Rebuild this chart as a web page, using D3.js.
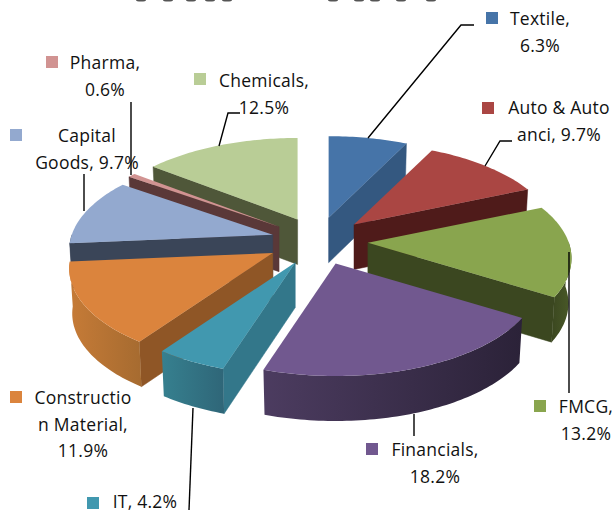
<!DOCTYPE html>
<html>
<head>
<meta charset="utf-8">
<script src="https://cdn.jsdelivr.net/npm/d3@7/dist/d3.min.js"></script>
<style>
html,body{margin:0;padding:0;background:#fff;overflow:hidden}
svg{display:block}
text{font-family:"Open Sans",Lato,sans-serif;font-size:17.5px;letter-spacing:.25px;fill:#111;text-anchor:middle}
</style>
</head>
<body>
<svg id="chart" width="616" height="512"></svg>
<script>
const categories = ["Textile","Auto & Auto anci","FMCG","Financials","IT","Construction Material","Capital Goods","Pharma","Chemicals"];
const shares = [6.3,9.7,13.2,18.2,4.2,11.9,9.7,0.6,12.5];

const topColors  = ["#4674A8","#AA4643","#89A54E","#71588F","#4198AF","#DB843D","#93A9CF","#D19392","#B9CD96"];
const wallColors = ["#345880","#4F1B1A","#3B4720","#2E243B","#33778A","#8F5626","#3A4558","#5A3838","#4F5739"];
const outerLeft  = ["#345880","#4F1B1A","#3B4720","#4C3C60","#36808F","#C67B37","#3A4558","#5A3838","#4F5739"];
const outerRight = ["#345880","#4F1B1A","#4A5A28","#2B2238","#2F6678","#A66B30","#3A4558","#5A3838","#4F5739"];

// Label lines, swatch and leader geometry are layout, kept apart from the data.
const labelLines = [["Textile,","6.3%"],["Auto & Auto","anci, 9.7%"],["FMCG,","13.2%"],["Financials,","18.2%"],["IT, 4.2%"],["Constructio","n Material,","11.9%"],["Capital","Goods, 9.7%"],["Pharma,","0.6%"],["Chemicals,","12.5%"]];
const labelCenterX = [540,559,586,435,145,83,87,105,264];
const labelBaseY   = [25,114,413,456,508,404,142,69,87];
const swatchX = [486,482,534,366,87,10,10,46,194];
const swatchY = [12,102,400,443,497,391,129,56,73];
const nudgeX = [0,0,0,1,1,0,5,3,3];
const leaders = [
  [[474,25],[461,25],[368,138]],
  [[512,141],[500,141],[485,166]],
  [[569,252],[569,393]],
  [[414,414],[414,436]],
  [[193,408],[189,510]],
  null,
  [[84,174],[84,211]],
  [[131,102],[131,175]],
  [[240,113],[228,113],[219,146]]
];
const titleRemnantX = [141,168,191,210,227,333,359,375,401,431];
const LINE_H = 26.5;

const cx = 317, cy = 241;      // pie centre
const RX = 201, RY = 94.5;     // plane radii
const PERSP = 0.16;            // perspective foreshortening
const EXPLODE_X = 51, EXPLODE_Y = 24;
const DEPTH = 45;
const BOTTOM_X = 0.985;

const svg = d3.select("#chart");
const line = d3.line();
const defs = svg.append("defs");

const arcs = d3.pie().sort(null).startAngle(0).endAngle(2*Math.PI)(shares);

const rim = (t) => {
  const k = 1/(1+PERSP*Math.cos(t));
  return [RX*Math.sin(t)*k, -RY*Math.cos(t)*k];
};

arcs.forEach(a => { a.mid = (a.startAngle+a.endAngle)/2; });
const order = arcs.slice().sort((a,b)=>d3.descending(Math.cos(a.mid),Math.cos(b.mid)));

order.forEach(a => {
  const i = a.index;
  const ax = cx + EXPLODE_X*Math.sin(a.mid) + nudgeX[i];
  const ay = cy - EXPLODE_Y*Math.cos(a.mid);
  const top = ([x,y]) => [ax+x, ay+y];
  const bot = ([x,y]) => [ax+x*BOTTOM_X, ay+y+DEPTH];
  const n = Math.max(2, Math.ceil((a.endAngle-a.startAngle)/0.02));
  const ts = d3.range(n+1).map(j => a.startAngle+(a.endAngle-a.startAngle)*j/n);
  const g = svg.append("g").attr("class","slice").attr("data-name",categories[i]);
  const apexT = [ax,ay], apexB = [ax,ay+DEPTH];
  const wall = (t) => line([apexT, top(rim(t)), bot(rim(t)), apexB])+"Z";

  if (Math.sin(a.startAngle) < -1e-6)
    g.append("path").attr("d",wall(a.startAngle)).attr("fill",wallColors[i]).attr("stroke",wallColors[i]).attr("stroke-width",.5);
  if (Math.sin(a.endAngle) > 1e-6)
    g.append("path").attr("d",wall(a.endAngle)).attr("fill",wallColors[i]).attr("stroke",wallColors[i]).attr("stroke-width",.5);

  const front = ts.filter(t => Math.cos(t) < 0.02);
  if (front.length > 1) {
    const pts = front.map(t=>top(rim(t))).concat(front.slice().reverse().map(t=>bot(rim(t))));
    const id = "outer"+i;
    const grad = defs.append("linearGradient").attr("id",id);
    grad.append("stop").attr("offset","0%").attr("stop-color",outerLeft[i]);
    grad.append("stop").attr("offset","100%").attr("stop-color",outerRight[i]);
    g.append("path").attr("d",line(pts)+"Z").attr("fill",`url(#${id})`);
  }
  const face = [apexT].concat(ts.map(t=>top(rim(t))));
  g.append("path").attr("d",line(face)+"Z").attr("fill",topColors[i]);
});

// Leader lines
leaders.forEach(pts => {
  if (!pts) return;
  svg.append("path").attr("d",line(pts)).attr("fill","none").attr("stroke","#000").attr("stroke-width",1.4);
});

// Legend keys and labels
categories.forEach((c,i) => {
  svg.append("rect").attr("x",swatchX[i]).attr("y",swatchY[i]).attr("width",12).attr("height",12).attr("fill",topColors[i]);
  const t = svg.append("text");
  labelLines[i].forEach((s,j) => {
    t.append("tspan").attr("x",labelCenterX[i]).attr("y",labelBaseY[i]+j*LINE_H).text(s);
  });
});

// Bottoms of the cropped-off title letters
svg.append("g").selectAll("ellipse").data(titleRemnantX).join("ellipse")
  .attr("cx",d=>d).attr("cy",0).attr("rx",5).attr("ry",1.6).attr("fill","#555");
</script>
</body>
</html>
